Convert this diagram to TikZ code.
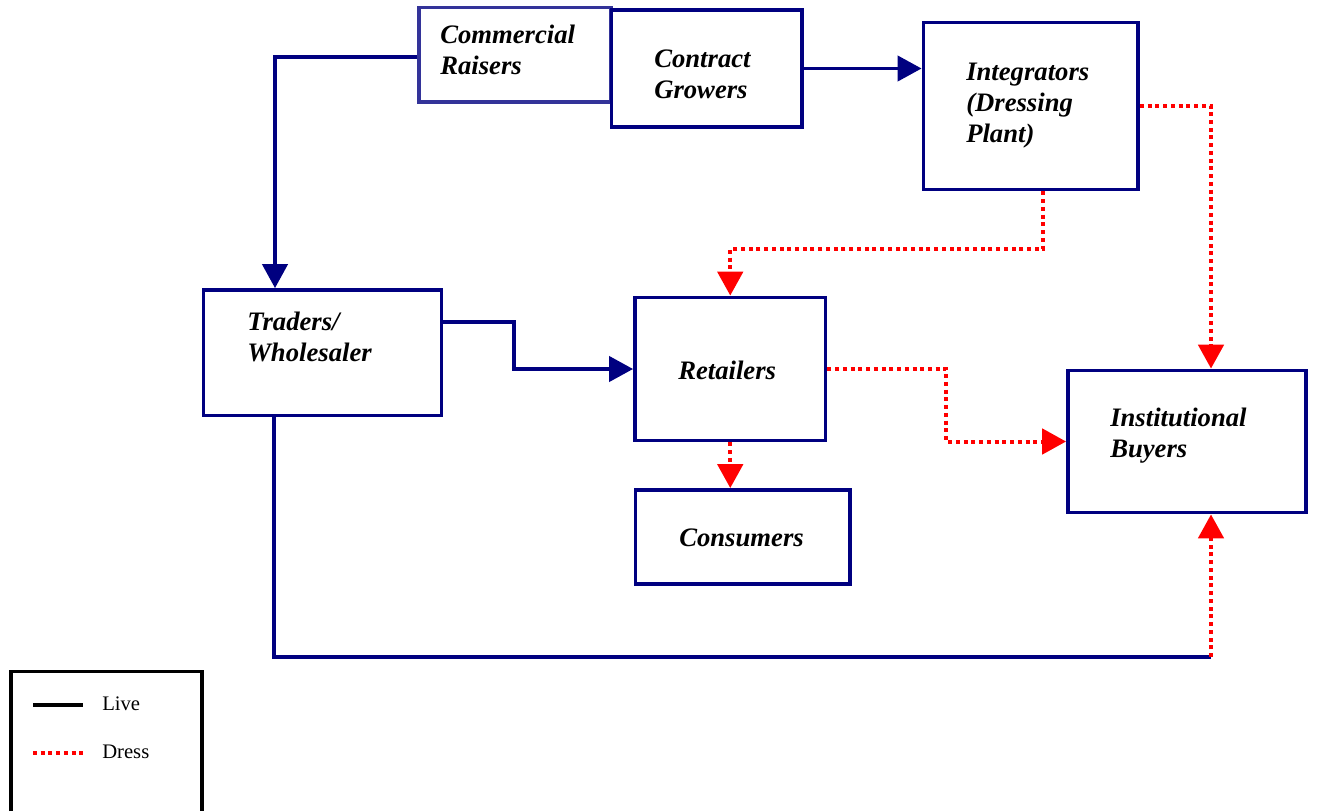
\documentclass[tikz,border=0pt]{standalone}
\usepackage{fontspec}
\setmainfont{Liberation Serif}
\usetikzlibrary{arrows.meta}
\definecolor{navy}{RGB}{0,0,128}
\definecolor{slate}{RGB}{51,51,153}
\newcommand{\boxfont}{\bfseries\itshape\fontsize{20}{23.25}\selectfont}
\newcommand{\keyfont}{\fontsize{15.5}{18}\selectfont}
\newcommand{\boxlines}[1]{\begin{tabular}[t]{@{}l@{}}#1\end{tabular}}
\tikzstyle{stage}=[draw=navy,line width=2.9pt,fill=white,inner sep=0pt]
\tikzstyle{boxtext}=[anchor=base west,inner sep=0pt,font=\boxfont]
\tikzstyle{keytext}=[anchor=base west,inner sep=0pt,font=\keyfont]
\tikzstyle{live}=[draw=navy,line width=2.5pt]
\tikzstyle{dress}=[draw=red,line width=3pt,dash pattern=on 3pt off 2.8pt]

\begin{document}
\begin{tikzpicture}[x=0.75pt,y=-0.75pt,>={Triangle[length=18pt,width=19pt]}]
\useasboundingbox (0,0) rectangle (1317,811);
% boxes
\node[stage,draw=slate,minimum width=144pt,minimum height=70.9pt] (raisers) at (515,54.75) {};
\node[stage,minimum width=142.9pt,minimum height=87.75pt] (growers) at (706.75,68.5) {};
\node[stage,minimum width=160.9pt,minimum height=125.25pt] (integ) at (1030.75,106) {};
\node[stage,minimum width=178.5pt,minimum height=94.1pt] (traders) at (322.5,352.75) {};
\node[stage,minimum width=142.9pt,minimum height=107.25pt] (retail) at (730.25,369) {};
\node[stage,minimum width=160.9pt,minimum height=70.5pt] (cons) at (742.75,537) {};
\node[stage,minimum width=178.5pt,minimum height=106.5pt] (inst) at (1187,441.5) {};
% box texts
\node[boxtext] (raisers-t) at (440,43) {\boxlines{Commercial\\Raisers}};
\node[boxtext] (growers-t) at (654,67) {\boxlines{Contract\\Growers}};
\node[boxtext] (integ-t) at (966,80) {\boxlines{Integrators\\(Dressing\\Plant)}};
\node[boxtext] (traders-t) at (247,330) {\boxlines{Traders/\\Wholesaler}};
\node[boxtext] (retail-t) at (678,379) {Retailers};
\node[boxtext] (cons-t) at (679,546.7) {Consumers};
\node[boxtext] (inst-t) at (1110,426) {\boxlines{Institutional\\Buyers}};
% flows
\draw[live,->] (raisers.west |- 0,57) -| (traders.north -| 275,0);
\draw[live,->] (growers.east) -- (integ.west |- growers.east);
\draw[dress,->] (integ.east) -| (inst.north -| 1211,0);
\draw[dress,->] (integ.south -| 1043,0) |- (retail.north |- 0,249) -- (retail.north);
\draw[live,->] (traders.east |- 0,322) -- (514,322) |- (retail.west);
\draw[dress,->] (retail.east) -- (retail.east -| 946,0) |- (inst.west);
\draw[dress,->] (retail.south) -- (retail.south |- cons.north);
\coordinate (turn) at (1211,657);
\draw[live] (traders.south -| 274,0) |- (turn);
\draw[dress,->] (turn) -- (inst.south -| turn);
% legend
\draw[black,line width=2.5pt] (11,811) |- (202,671.5) -- (202,811);
\draw[black,line width=2.6pt] (33,705) -- (83,705);
\draw[dress] (33,753) -- (83,753);
\node[keytext] (live-t) at (102,710.7) {Live};
\node[keytext] (dress-t) at (102,758) {Dress};
\end{tikzpicture}
\end{document}
